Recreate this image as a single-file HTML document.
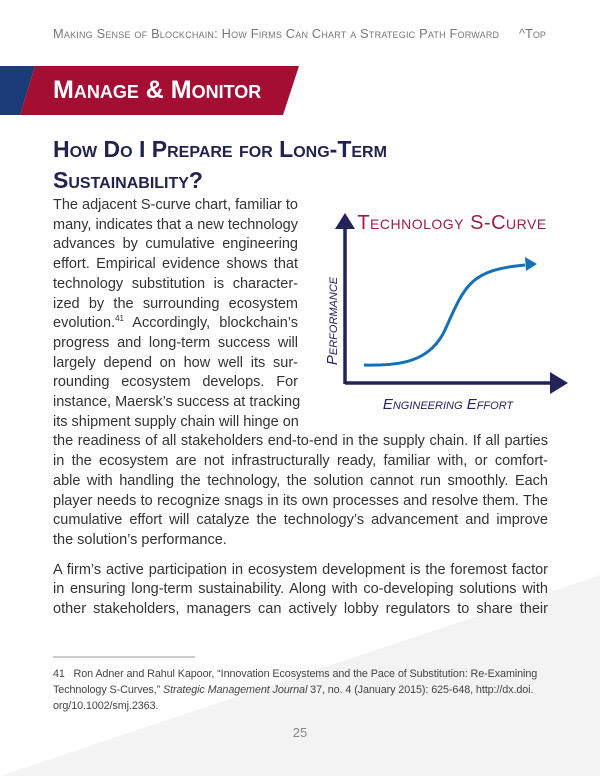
<!DOCTYPE html>
<html><head><meta charset="utf-8"><style>
body{margin:0;width:600px;height:776px;position:relative;background:#fff;overflow:hidden;font-family:"Liberation Sans",sans-serif;}
.l{position:absolute;left:53px;width:495px;font-size:14.5px;color:#333;text-align:justify;text-align-last:justify;white-space:nowrap;line-height:20px;height:20px;}
.n{width:245px}
.last{text-align-last:left}
sup{font-size:8px;line-height:0;vertical-align:6px}
</style></head><body>
<svg width="600" height="776" style="position:absolute;left:0;top:0">
<polygon points="0,776 600,575 600,776" fill="#f3f3f3"/>
<polygon points="0,66 35,66 20,115 0,115" fill="#1b3a78"/>
<polygon points="35,66 299,66 283,115 20,115" fill="#a50e33"/>
<line x1="53" y1="657" x2="195" y2="657" stroke="#999" stroke-width="1"/>
<line x1="345" y1="225" x2="345" y2="384" stroke="#23235a" stroke-width="3.5"/>
<polygon points="345,213 335,229 355,229" fill="#23235a"/>
<line x1="345" y1="383" x2="556" y2="383" stroke="#23235a" stroke-width="3.5"/>
<polygon points="568,383 550,372 550,394" fill="#23235a"/>
<path d="M364,365 C400,366 430,362 445,330 C465,285 470,270 525,265" fill="none" stroke="#1570b8" stroke-width="3"/>
<polygon points="537,264 525,257 526,271" fill="#1570b8"/>
<text x="452" y="229" text-anchor="middle" font-family="Liberation Sans" font-size="20" fill="#9b1f45" style="font-variant:small-caps" letter-spacing="0.5">Technology S-Curve</text>
<text x="448" y="409" text-anchor="middle" font-family="Liberation Sans" font-size="15" font-style="italic" fill="#23235a" style="font-variant:small-caps">Engineering Effort</text>
<text transform="translate(337,321) rotate(-90)" text-anchor="middle" font-family="Liberation Sans" font-size="15" font-style="italic" fill="#23235a" style="font-variant:small-caps">Performance</text>
</svg>
<div style="position:absolute;left:53px;top:26px;font-size:12.8px;color:#777;font-variant:small-caps;letter-spacing:0.2px">Making Sense of Blockchain: How Firms Can Chart a Strategic Path Forward</div>
<div style="position:absolute;left:519px;top:26px;font-size:12.8px;color:#777;font-variant:small-caps">^Top</div>
<div style="position:absolute;left:53px;top:76px;font-size:25px;font-weight:bold;color:#fff;font-variant:small-caps">Manage &amp; Monitor</div>
<div style="position:absolute;left:53px;top:134px;font-size:23px;font-weight:bold;color:#22224f;font-variant:small-caps;line-height:31px">How Do I Prepare for Long-Term<br>Sustainability?</div>
<div class="l n" style="top:195px">The adjacent S-curve chart, familiar to</div>
<div class="l n" style="top:214.7px">many, indicates that a new technology</div>
<div class="l n" style="top:234.4px">advances by cumulative engineering</div>
<div class="l n" style="top:254.1px">effort. Empirical evidence shows that</div>
<div class="l n" style="top:273.8px">technology substitution is character-</div>
<div class="l n" style="top:293.5px">ized by the surrounding ecosystem</div>
<div class="l n" style="top:313.2px">evolution.<sup>41</sup> Accordingly, blockchain’s</div>
<div class="l n" style="top:332.9px">progress and long-term success will</div>
<div class="l n" style="top:352.6px">largely depend on how well its sur-</div>
<div class="l n" style="top:372.3px">rounding ecosystem develops. For</div>
<div class="l n" style="top:392px">instance, Maersk’s success at tracking</div>
<div class="l n last" style="top:411.7px">its shipment supply chain will hinge on</div>
<div class="l" style="top:431.4px">the readiness of all stakeholders end-to-end in the supply chain. If all parties</div>
<div class="l" style="top:451.1px">in the ecosystem are not infrastructurally ready, familiar with, or comfort-</div>
<div class="l" style="top:470.8px">able with handling the technology, the solution cannot run smoothly. Each</div>
<div class="l" style="top:490.5px">player needs to recognize snags in its own processes and resolve them. The</div>
<div class="l" style="top:510.2px">cumulative effort will catalyze the technology’s advancement and improve</div>
<div class="l last" style="top:529.9px">the solution’s performance.</div>
<div class="l" style="top:559.5px">A firm’s active participation in ecosystem development is the foremost factor</div>
<div class="l" style="top:579.2px">in ensuring long-term sustainability. Along with co-developing solutions with</div>
<div class="l" style="top:598.9px">other stakeholders, managers can actively lobby regulators to share their</div>
<div style="position:absolute;left:53px;top:666px;width:495px;font-size:10.8px;line-height:16px;color:#444;white-space:nowrap;letter-spacing:-0.1px">41&nbsp;&nbsp; Ron Adner and Rahul Kapoor, “Innovation Ecosystems and the Pace of Substitution: Re-Examining<br>Technology S-Curves,” <i>Strategic Management Journal</i> 37, no. 4 (January 2015): 625-648, http://dx.doi.<br>org/10.1002/smj.2363.</div>
<div style="position:absolute;left:0;width:600px;top:725px;text-align:center;font-size:13px;color:#888">25</div>
</body></html>
